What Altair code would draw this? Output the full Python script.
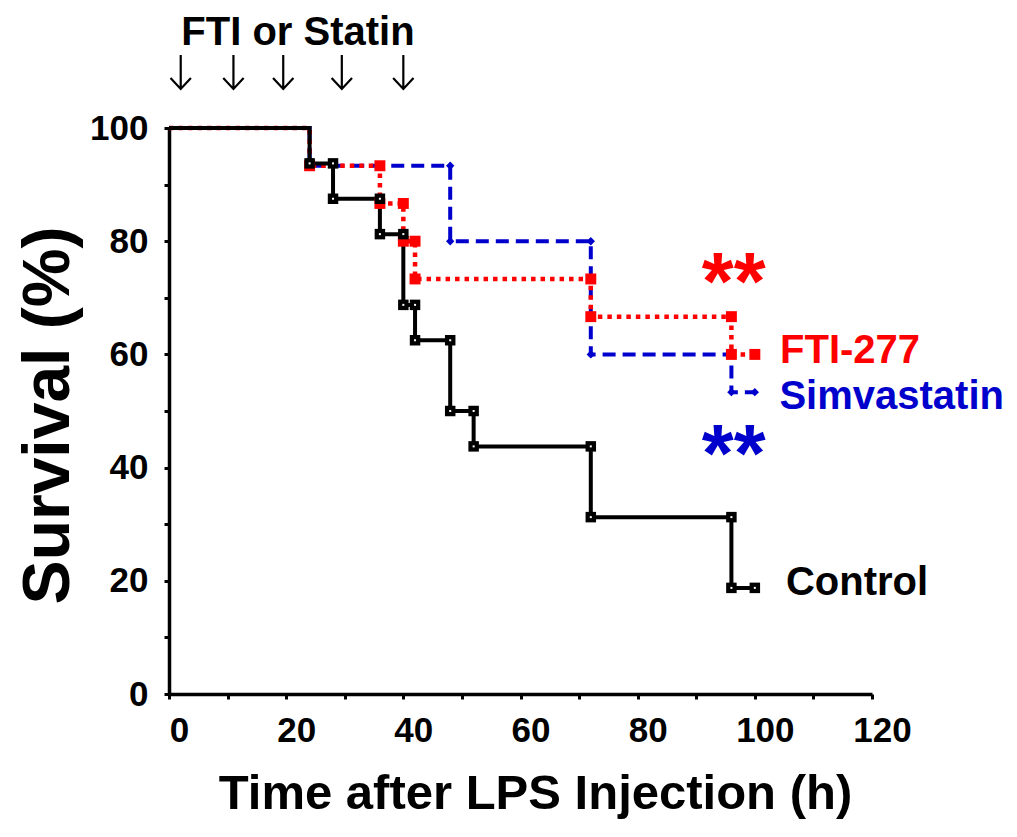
import altair as alt
import pandas as pd

# Kaplan-Meier step data (time h, survival %)
ctrl_t = [0, 24, 28, 36, 40, 42, 48, 52, 72, 96, 100]
ctrl_s = [100, 93.75, 87.5, 81.25, 68.75, 62.5, 50, 43.75, 31.25, 18.75, 18.75]
fti_t = [0, 24, 36, 40, 42, 72, 96, 100]
fti_s = [100, 93.33, 86.67, 80, 73.33, 66.67, 60, 60]
sim_t = [0, 24, 48, 72, 96, 100]
sim_s = [100, 93.33, 80, 60, 53.33, 53.33]

# dosing arrows (h)
dose_t = [2, 11, 19.5, 29.5, 40]

# annotation labels
lab_text = ["FTI-277", "Simvastatin", "Control"]
lab_x = [104.3, 104.2, 105.3]
lab_y = [60.6, 52.5, 19.6]
lab_color = ["#ff0000", "#0000cc", "#000000"]

star_x = [96.4, 96.4]
star_y = [75.3, 44.9]
star_color = ["#ff0000", "#0000cc"]

FONT = "Liberation Sans"
ARROW = "M0,-1L0,1M-0.6,0.35L0,1L0.6,0.35"


def line_df(t, s):
    return pd.DataFrame({"t": t, "s": s})


def corner_df(t, s):
    rows = []
    for i in range(1, len(t)):
        if i >= 2 and s[i - 1] != s[i]:
            rows.append((t[i], s[i - 1]))
        rows.append((t[i], s[i]))
    return pd.DataFrame(rows, columns=["t", "s"])


xs = alt.Scale(domain=[0, 120], nice=False, zero=True)
ys = alt.Scale(domain=[0, 100], nice=False)

xaxis = alt.Axis(
    values=list(range(0, 121, 10)),
    labelExpr="datum.value % 20 == 0 ? datum.label : ''",
    title="Time after LPS Injection (h)",
    titleFontSize=49,
    titleFont=FONT,
    titleFontWeight="bold",
    titleX=366,
    titleY=114,
    titleBaseline="alphabetic",
    titleAlign="center",
    labelOffset=10,
    labelPadding=14,
    labelFlush=False,
)
yaxis = alt.Axis(
    values=list(range(0, 101, 10)),
    labelExpr="datum.value % 20 == 0 ? datum.label : ''",
    title="Survival (%)",
    titleFontSize=66,
    titleFont=FONT,
    titleFontWeight="bold",
    titleX=-121,
    titleY=287,
    titleAngle=270,
    titleAlign="center",
    titleBaseline="middle",
    labelPadding=16,
    labelFlush=False,
)

X = alt.X("t:Q", scale=xs, axis=xaxis)
Y = alt.Y("s:Q", scale=ys, axis=yaxis)

blue_line = alt.Chart(line_df(sim_t, sim_s)).mark_line(
    interpolate="step-after", color="#0000cc", strokeWidth=4, strokeDash=[13, 7]
).encode(x=X, y=Y)
blue_pts = alt.Chart(corner_df(sim_t, sim_s)).mark_point(
    shape="diamond", filled=True, color="#0000cc", size=70, opacity=1
).encode(x="t:Q", y="s:Q")

red_line = alt.Chart(line_df(fti_t, fti_s)).mark_line(
    interpolate="step-after", color="#ff0000", strokeWidth=4.5, strokeDash=[4.5, 5]
).encode(x="t:Q", y="s:Q")
red_pts = alt.Chart(corner_df(fti_t, fti_s)).mark_point(
    shape="square", filled=True, color="#ff0000", size=120, opacity=1
).encode(x="t:Q", y="s:Q")

black_line = alt.Chart(line_df(ctrl_t, ctrl_s)).mark_line(
    interpolate="step-after", color="#000000", strokeWidth=4
).encode(x="t:Q", y="s:Q")
black_pts = alt.Chart(corner_df(ctrl_t, ctrl_s)).mark_point(
    shape="square", filled=True, color="#000000", size=110, opacity=1
).encode(x="t:Q", y="s:Q")
black_dots = alt.Chart(corner_df(ctrl_t, ctrl_s)).mark_point(
    shape="square", filled=True, color="#ffffff", size=4, opacity=1
).encode(x="t:Q", y="s:Q")

labels = alt.Chart(
    pd.DataFrame({"x": lab_x, "y": lab_y, "text": lab_text, "c": lab_color})
).mark_text(
    align="left", baseline="middle", font=FONT, fontWeight="bold", fontSize=40
).encode(x="x:Q", y="y:Q", text="text:N", color=alt.Color("c:N", scale=None))

stars = alt.Chart(
    pd.DataFrame({"x": star_x, "y": star_y, "c": star_color})
).mark_text(
    text="**", align="center", baseline="alphabetic", font=FONT, fontWeight="bold",
    fontSize=82, dy=41
).encode(x="x:Q", y="y:Q", color=alt.Color("c:N", scale=None))

header = alt.Chart(pd.DataFrame({"text": ["FTI or Statin"]})).mark_text(
    align="center", baseline="alphabetic", font=FONT, fontWeight="bold", fontSize=40
).encode(x=alt.value(129), y=alt.value(-83), text="text:N")

arrows = alt.Chart(pd.DataFrame({"t": dose_t})).mark_point(
    shape=ARROW, filled=False, color="black", strokeWidth=2.2, size=1156, opacity=1
).encode(x="t:Q", y=alt.value(-56))

chart = alt.layer(
    blue_line, red_line, black_line, blue_pts, red_pts, black_pts, black_dots,
    labels, stars, header, arrows
).properties(
    width=703, height=566,
    autosize=alt.AutoSizeParams(type="none"),
    padding={"left": 161, "top": 120, "right": 137, "bottom": 135},
).configure_view(stroke=None).configure_axis(
    grid=False,
    domainColor="black",
    domainWidth=3.5,
    tickColor="black",
    tickWidth=3,
    tickSize=5,
    labelFont=FONT,
    labelFontWeight="bold",
    labelFontSize=35,
    labelColor="black",
    titleColor="black",
)

chart.save("out.html", embed_options={"renderer": "svg", "actions": False})
